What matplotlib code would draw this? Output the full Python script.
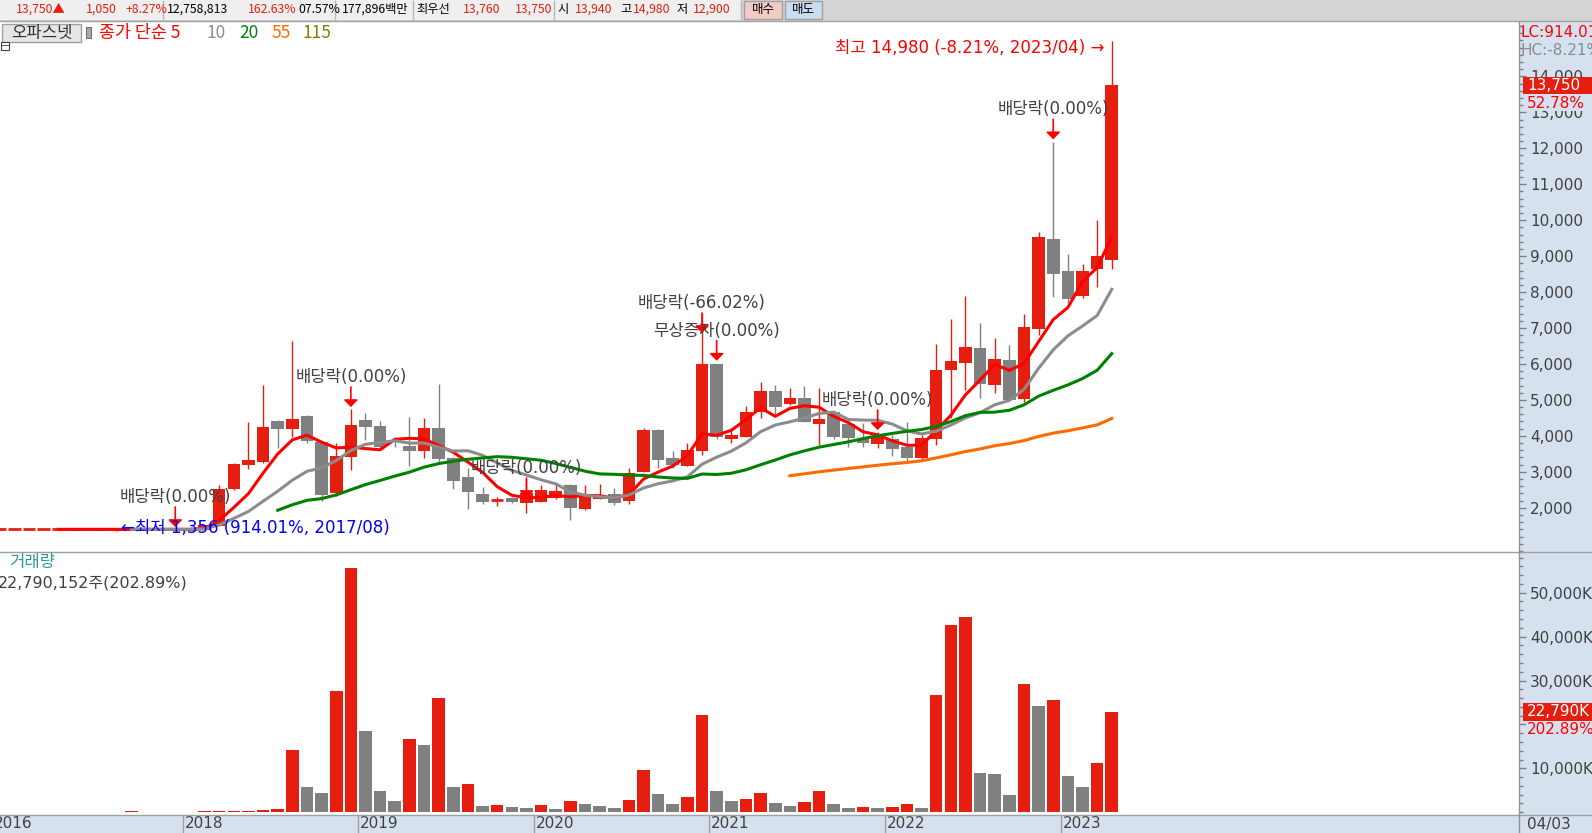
import matplotlib
matplotlib.use('Agg')
import matplotlib.pyplot as plt
from matplotlib.patches import Rectangle
from matplotlib.ticker import FixedLocator, MultipleLocator, FuncFormatter
from matplotlib.transforms import blended_transform_factory
import numpy as np
import pandas as pd

plt.rcParams['font.family'] = ['Noto Sans CJK KR', 'DejaVu Sans']
LATIN = ['DejaVu Sans', 'Noto Sans CJK KR']   # wide digits, Korean falls back

# monthly bars 2016/12 .. 2023/04
months = [p.strftime('%Y/%m') for p in pd.period_range('2016-12', '2023-04', freq='M')]

opens = [1400, 1400, 1400, 1400, 1400, 1400, 1400, 1400, 1400, 1400, 1400, 1400, 1400,
         1400,
         1390, 1500, 2513, 3199, 3273, 4414, 4182, 4553, 3820, 2420, 3421,
         4441, 4274, 3860, 3727, 3580, 4228, 3375, 2865, 2374, 2200, 2262, 2142,
         2169, 2262, 2633, 1965, 2244, 2383, 2197, 3004, 4163, 3375, 3171, 3588,
         5999, 3913, 3978, 4655, 5248, 4877, 5063, 4330, 4673, 4330, 3903, 3764,
         3903, 3700, 3394, 3922, 5832, 6018, 6435, 5406, 6111, 5026, 6964, 9468,
         8596, 7900, 8652, 8893]
highs = [1400, 1400, 1400, 1400, 1400, 1400, 1400, 1400, 1400, 1400, 1400, 1400, 1400,
         1400,
         1520, 2633, 3250, 4395, 5415, 4430, 6639, 4570, 3830, 3792, 4747,
         4645, 4423, 3980, 4515, 4489, 5443, 3400, 3097, 2568, 2309, 2300, 2800,
         2620, 2700, 2650, 2633, 2661, 2540, 3097, 4228, 4200, 3588, 3792, 7409,
         6010, 4209, 4831, 5508, 5415, 5322, 5387, 5322, 4690, 4340, 4349, 4117,
         4024, 4395, 4024, 6556, 7251, 7891, 7131, 6713, 6528, 7390, 9662, 12185,
         9060, 8772, 10005, 14980]
lows = [1400, 1400, 1400, 1400, 1400, 1400, 1400, 1400, 1356, 1400, 1400, 1400, 1400,
        1400,
        1380, 1490, 2500, 3069, 3236, 3653, 3978, 3792, 2197, 2327, 3050,
        3885, 3650, 3700, 3162, 3376, 3282, 2513, 1956, 2104, 2058, 2120, 1845,
        2150, 2240, 1659, 1950, 2230, 2077, 2095, 2990, 3097, 3100, 3150, 3468,
        3903, 3792, 3960, 4488, 4580, 4850, 4380, 3746, 3903, 3700, 3700, 3653,
        3440, 3254, 3347, 3746, 4488, 5276, 5044, 5184, 4990, 4952, 6806, 7873,
        7687, 7826, 8151, 8633]
closes = [1400, 1400, 1400, 1400, 1400, 1400, 1400, 1400, 1400, 1400, 1400, 1400, 1400,
          1400,
          1510, 2513, 3217, 3329, 4247, 4182, 4469, 3866, 2364, 3440, 4302,
          4256, 3699, 3820, 3588, 4209, 3347, 2754, 2448, 2169, 2216, 2151, 2401,
          2494, 2466, 2003, 2355, 2355, 2142, 2976, 4163, 3329, 3189, 3607, 5999,
          3959, 4024, 4673, 5248, 4812, 5063, 4395, 4460, 3978, 3950, 3792, 3959,
          3625, 3375, 3941, 5832, 6083, 6472, 5434, 6129, 4998, 7029, 9523, 8494,
          7817, 8587, 9000, 13750]
# volume in thousand shares
volume_k = [0, 0, 0, 0, 0, 0, 0, 0, 150, 170, 0, 0, 0,
            0,
            200, 210, 220, 230, 450, 680, 14210, 5670, 4310, 27660, 55700,
            18520, 4910, 2640, 16700, 15340, 26000, 5820, 6500, 1510, 1550, 1280, 1060,
            1740, 830, 2645, 1965, 1510, 1060, 2870, 9670, 4230, 1965, 3550, 22150,
            4910, 2645, 3100, 4460, 2190, 1510, 2420, 4910, 1965, 1060, 1280, 1060,
            1100, 1965, 1060, 26680, 42550, 44370, 8990, 8770, 4010, 29170, 24190, 25550,
            8310, 5820, 11233, 22790]

ma_periods = [5, 10, 20, 55, 115]
ma_colors = ['#FF0000', '#8C8C8C', '#008000', '#FF6A00', '#808000']

# corporate events: (month, label)
events = [('2017/12', '배당락(0.00%)'), ('2018/12', '배당락(0.00%)'), ('2019/12', '배당락(0.00%)'),
          ('2020/12', '배당락(-66.02%)'), ('2021/01', '무상증자(0.00%)'), ('2021/12', '배당락(0.00%)'),
          ('2022/12', '배당락(0.00%)')]
event_tip = [1465, 4803, 2272, 6862, 6091, 4163, 12251]

RED = '#E61E0F'
GRAY = '#808080'
STRIP = '#D6E1EF'
TXT = '#404040'

W, H = 1592, 833
fig = plt.figure(figsize=(W / 100, H / 100), dpi=100, facecolor='white')

def frac(x0, y0, x1, y1):
    return [x0 / W, 1 - y1 / H, (x1 - x0) / W, (y1 - y0) / H]

bg = fig.add_axes([0, 0, 1, 1], zorder=-1)
bg.set_xlim(0, W); bg.set_ylim(H, 0); bg.axis('off')
bg.add_patch(Rectangle((0, 0), W, 21, fc='#D4D4D4', ec='none'))
bg.add_patch(Rectangle((0, 0), 741, 20, fc='#EFEFEF', ec='none'))
bg.add_patch(Rectangle((1519, 22), W - 1519, H - 22, fc=STRIP, ec='none'))
bg.add_patch(Rectangle((0, 815), W, 18, fc=STRIP, ec='none'))

ax = fig.add_axes(frac(0, 22, 1519, 551))
vax = fig.add_axes(frac(0, 552, 1519, 815))
for a in (ax, vax):
    a.patch.set_visible(False)
    for s in a.spines.values():
        s.set_visible(False)
    a.set_xticks([])
    a.tick_params(axis='x', length=0)
    a.yaxis.tick_right()

n = len(months)
x = np.arange(n)
o = np.array(opens); h = np.array(highs); l = np.array(lows); c = np.array(closes)
cols = np.where(c >= o, RED, GRAY)

# candles
ax.vlines(x, l, h, colors=cols, lw=1, zorder=1.5)
body = np.abs(c - o) >= 40
ax.bar(x[body], np.abs(c - o)[body], bottom=np.minimum(o, c)[body], width=0.86,
       color=cols[body], zorder=2)
ax.hlines(c[~body], x[~body] - 0.43, x[~body] + 0.43, colors=cols[~body], lw=2, zorder=2)

s = pd.Series(closes, dtype=float)
for p, col in zip(ma_periods, ma_colors):
    ax.plot(x, s.rolling(p).mean(), color=col, lw=2.2, zorder=3)

ax.set_xlim(0.022, 103.83)
ax.set_ylim(797, 15514)
ax.yaxis.set_major_locator(FixedLocator(range(2000, 15000, 1000)))
ax.yaxis.set_minor_locator(MultipleLocator(200))
ax.yaxis.set_major_formatter(FuncFormatter(lambda v, p: f'{v:,.0f}'))

# volume, coloured by change against the previous month
vol = np.array(volume_k)
prev = np.concatenate([[0], vol[:-1]])
vcols = np.where(vol > prev, RED, GRAY)
vax.bar(x, vol, width=0.86, color=vcols)
vax.set_xlim(0.022, 103.83)
vax.set_ylim(-638, 59272)
vax.yaxis.set_major_locator(FixedLocator(range(10000, 60000, 10000)))
vax.yaxis.set_minor_locator(MultipleLocator(2000))
# 20,000K sits under the current-volume box
vax.yaxis.set_major_formatter(FuncFormatter(lambda v, p: '' if v == 20000 else f'{v:,.0f}K'))

for a in (ax, vax):
    a.tick_params(axis='y', which='major', direction='out', length=5, width=1, color='#7F7F7F',
                  pad=3, labelsize=11, labelcolor=TXT, labelfontfamily='DejaVu Sans')
    a.tick_params(axis='y', which='minor', direction='out', length=3, width=1, color='#7F7F7F')

# event arrows
for (m, label), tip in zip(events, event_tip):
    i = months.index(m)
    ax.annotate('', xy=(i, tip), xytext=(0, 20), textcoords='offset pixels',
                arrowprops=dict(arrowstyle='-|>,head_length=0.3,head_width=0.3', color='#FF0000',
                                lw=1.2, mutation_scale=14, shrinkA=0, shrinkB=0), zorder=4)
    ax.annotate(label, xy=(i, tip), xytext=(0, 30), textcoords='offset pixels',
                ha='center', va='center', color=TXT, fontsize=12, family=LATIN, zorder=4)

# high / low labels
last = closes[-1]
ih = int(np.argmax(h)); il = int(np.argmin(l))
ax.annotate(f'최고 {h[ih]:,} ({(last - h[ih]) / h[ih] * 100:.2f}%, {months[ih]}) →',
            xy=(ih, h[ih]), xytext=(-7, -7), textcoords='offset pixels',
            ha='right', va='center', color='#FF0000', fontsize=12, family=LATIN, zorder=4)
ax.annotate(f'←최저 {l[il]:,} ({(last - l[il]) / l[il] * 100:.2f}%, {months[il]})',
            xy=(il, l[il]), xytext=(4, 3), textcoords='offset pixels',
            ha='left', va='center', color='#0000FF', fontsize=12, family=LATIN, zorder=4)

# date axis strip: first bar's year, then each January (skip when too close)
blend = blended_transform_factory(vax.transData, vax.transAxes)
year_starts = [0]
for i, m in enumerate(months):
    if m.endswith('/01') and i - year_starts[-1] > 3:
        year_starts.append(i)
for i in year_starts:
    t = i - 0.5
    if i > 0:
        vax.plot([t, t], [0, -0.07], transform=blend, color='#A0A0A0', lw=1, clip_on=False)
    vax.text(t + 0.13, -0.034, months[i][:4], transform=blend, ha='left', va='center',
             fontsize=11, color=TXT, family='DejaVu Sans', clip_on=False)

# overlay chrome
fg = fig.add_axes([0, 0, 1, 1], zorder=10)
fg.set_xlim(0, W); fg.set_ylim(H, 0); fg.axis('off'); fg.patch.set_visible(False)
fg.plot([0, W], [21, 21], color='#A0A0A0', lw=1)
fg.plot([0, W], [551.5, 551.5], color='#A0A0A0', lw=1)
fg.plot([0, W], [815, 815], color='#A0A0A0', lw=1)
fg.plot([1519, 1519], [22, H], color='#909090', lw=1)

# toolbar
toolbar = [('13,750▲', 16, RED), ('1,050', 86, RED), ('+8.27%', 125, RED), ('12,758,813', 167, 'black'),
           ('162.63%', 248, RED), ('07.57%', 298, 'black'), ('177,896백만', 342, 'black'),
           ('최우선', 416, 'black'), ('13,760', 463, RED), ('13,750', 515, RED), ('시', 557, 'black'),
           ('13,940', 575, RED), ('고', 620, 'black'), ('14,980', 633, RED), ('저', 677, 'black'),
           ('12,900', 693, RED)]
for txt, tx, col in toolbar:
    fg.text(tx, 9.5, txt, ha='left', va='center', fontsize=8.8, color=col)
for sx in (163, 335, 413, 554, 741):
    fg.plot([sx, sx], [1, 19], color='#B8B8B8', lw=1)
fg.add_patch(Rectangle((744, 1), 38, 18, fc='#F3CBC6', ec='#A0A0A0', lw=1))
fg.text(763, 9.5, '매수', ha='center', va='center', fontsize=9, color='black')
fg.add_patch(Rectangle((785, 1), 37, 18, fc='#CADCF2', ec='#A0A0A0', lw=1))
fg.text(803.5, 9.5, '매도', ha='center', va='center', fontsize=9, color='black')

# legend line
fg.add_patch(Rectangle((2, 24), 79, 18, fc='#E6E6E6', ec='#A0A0A0', lw=1))
fg.text(41.5, 33, '오파스넷', ha='center', va='center', fontsize=12, color='#303030')
fg.add_patch(Rectangle((86, 27), 5, 11, fc='#A8A8A8', ec='#707070', lw=0.8))
legend = [('종가 단순 5', 99, '#FF0000'), ('10', 207, '#8C8C8C'), ('20', 239, '#008000'),
          ('55', 271, '#FF6A00'), ('115', 303, '#808000')]
for txt, tx, col in legend:
    fg.text(tx, 33, txt, ha='left', va='center', fontsize=12.5, color=col)
fg.add_patch(Rectangle((0.5, 42), 8, 8, fc='white', ec='#404040', lw=0.8))
fg.plot([0.5, 8.5], [45, 45], color='#404040', lw=0.6)

fg.text(9, 562, '거래량', ha='left', va='center', fontsize=12, color='#2E9A9A')
fg.text(-2, 583, '22,790,152주(202.89%)', ha='left', va='center', fontsize=11.5, color=TXT,
        family=LATIN)

# right strip labels
fg.text(1520, 32.5, f'LC:{(last - l[il]) / l[il] * 100:.2f}%', ha='left', va='center',
        fontsize=11, color='#FF0000', family='DejaVu Sans')
fg.text(1520, 50.5, f'HC:{(last - h[ih]) / h[ih] * 100:.2f}%', ha='left', va='center',
        fontsize=11, color='#8C8C8C', family='DejaVu Sans')
fg.add_patch(Rectangle((1523, 77), W - 1523, 17, fc='#E61E0F', ec='none'))
fg.text(1527, 85.5, f'{last:,}', ha='left', va='center', fontsize=11, color='white', family='DejaVu Sans')
fg.text(1527, 103, f'{(last - closes[-2]) / closes[-2] * 100:.2f}%', ha='left', va='center',
        fontsize=11, color='#FF0000', family='DejaVu Sans',
        bbox=dict(fc=STRIP, ec='none', pad=0.5))
fg.add_patch(Rectangle((1523, 703), W - 1523, 18, fc='#E61E0F', ec='none'))
fg.text(1527, 712, f'{volume_k[-1]:,}K', ha='left', va='center', fontsize=11, color='white',
        family='DejaVu Sans')
fg.text(1527, 730, '202.89%', ha='left', va='center', fontsize=11, color='#FF0000',
        family='DejaVu Sans', bbox=dict(fc=STRIP, ec='none', pad=0.5))
fg.text(1527, 824, '04/03', ha='left', va='center', fontsize=11, color=TXT, family='DejaVu Sans')

fig.savefig('out.png', dpi=100)
